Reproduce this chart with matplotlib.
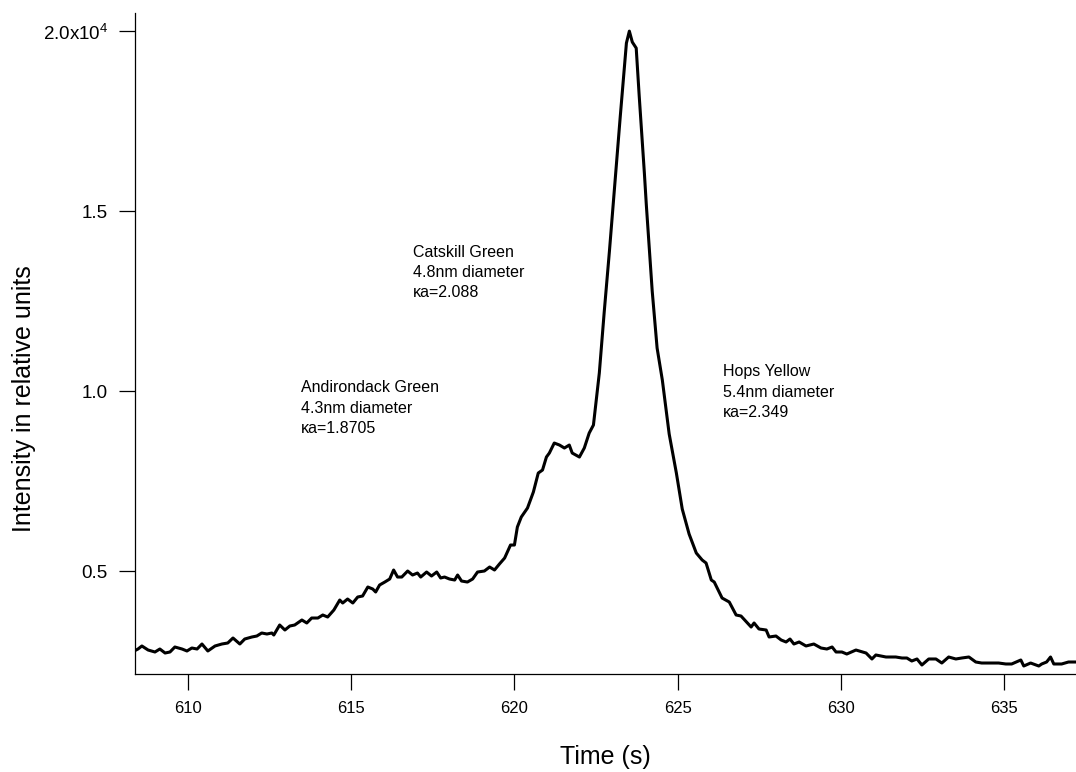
import matplotlib
matplotlib.use("Agg")
import matplotlib.pyplot as plt

plt.rcParams['font.family'] = ['Liberation Sans', 'DejaVu Sans']
plt.rcParams['mathtext.fontset'] = 'custom'
plt.rcParams['mathtext.rm'] = 'Liberation Sans'

# time (s) and detector intensity
time_s = [608.40, 608.47, 608.59, 608.78, 608.99, 609.14, 609.30, 609.45, 609.60, 609.82,
          609.97, 610.12, 610.28, 610.43, 610.61, 610.83, 611.04, 611.22, 611.38, 611.59,
          611.74, 611.96, 612.11, 612.26, 612.42, 612.57, 612.63, 612.81, 612.97, 613.12,
          613.27, 613.49, 613.64, 613.79, 613.98, 614.13, 614.28, 614.47,
          614.65, 614.74, 614.89, 615.05, 615.20, 615.35, 615.51, 615.66, 615.75, 615.87,
          616.03, 616.18, 616.30, 616.42, 616.55, 616.73, 616.88, 617.03, 617.13, 617.31,
          617.46, 617.62, 617.74, 617.86, 618.01, 618.17, 618.26, 618.38, 618.56, 618.72,
          618.87, 619.08, 619.24, 619.39, 619.54, 619.70, 619.88, 620.00, 620.09, 620.21,
          620.40, 620.58,
          620.73, 620.86, 620.98, 621.07, 621.22, 621.38, 621.53, 621.68, 621.77, 621.99,
          622.14, 622.29, 622.42, 622.60, 622.75, 622.91, 623.06, 623.24, 623.43, 623.52,
          623.61, 623.73, 623.82, 623.98,
          624.04, 624.22, 624.37, 624.53, 624.74, 624.96, 625.14, 625.35, 625.57, 625.75,
          625.87, 626.03, 626.12, 626.36, 626.58, 626.79, 626.94, 627.25, 627.34, 627.49,
          627.71, 627.80, 628.01, 628.17, 628.32, 628.44, 628.56, 628.72, 628.93, 629.17,
          629.39, 629.57, 629.73, 629.85, 630.03, 630.18, 630.46, 630.77, 630.95, 631.07,
          631.38, 631.68, 631.87, 632.02, 632.17, 632.33, 632.48, 632.69, 632.91, 633.09,
          633.30, 633.52, 633.70, 633.92, 634.13, 634.31, 634.53, 634.83, 635.05, 635.23,
          635.51, 635.60, 635.81, 636.06, 636.15, 636.30, 636.42, 636.52, 636.76, 636.97,
          637.16]

intensity = [2800, 2833, 2917, 2805, 2750, 2833, 2722, 2750, 2889, 2833,
             2778, 2861, 2833, 2972, 2778, 2917, 2972, 3000, 3139, 2972,
             3111, 3167, 3194, 3278, 3250, 3278, 3222, 3500, 3361, 3472,
             3500, 3639, 3556, 3694, 3694, 3778, 3722, 3917,
             4194, 4111, 4222, 4111, 4278, 4306, 4556, 4500, 4417, 4611,
             4694, 4778, 5028, 4833, 4833, 5000, 4889, 4944, 4833, 4972,
             4861, 4972, 4806, 4833, 4778, 4750, 4889, 4722, 4694, 4778,
             4972, 5000, 5111, 5028, 5194, 5361, 5722, 5722, 6222, 6500,
             6750, 7194,
             7722, 7806, 8167, 8278, 8556, 8500, 8417, 8500, 8278, 8167,
             8417, 8833, 9056, 10500, 12195, 13890, 15584, 17612, 19668, 20000,
             19696, 19529, 18223, 16056,
             15170, 12778, 11195, 10306, 8806, 7722, 6722, 6028, 5500, 5306,
             5222, 4750, 4694, 4250, 4139, 3778, 3750, 3444, 3556, 3389,
             3361, 3167, 3194, 3083, 3028, 3111, 2972, 3028, 2917, 2972,
             2861, 2833, 2889, 2750, 2750, 2694, 2805, 2722, 2556, 2667,
             2611, 2611, 2583, 2583, 2500, 2556, 2389, 2556, 2556, 2444,
             2611, 2556, 2583, 2611, 2472, 2444, 2444, 2444, 2417, 2417,
             2528, 2361, 2444, 2361, 2417, 2472, 2611, 2417, 2417, 2472,
             2472]

x_ticks = [610, 615, 620, 625, 630, 635]
y_ticks = [5000, 10000, 15000, 20000]
y_tick_labels = ['0.5', '1.0', '1.5', r'2.0x10$^{4}$']

peak_labels = ["Andirondack Green\n4.3nm diameter\n\u03baa=1.8705",
               "Catskill Green\n4.8nm diameter\n\u03baa=2.088",
               "Hops Yellow\n5.4nm diameter\n\u03baa=2.349"]
peak_label_pos = [(613.46, 9528), (616.88, 13306), (626.39, 9973)]

fig = plt.figure(figsize=(10.76, 7.72), dpi=100)
ax = fig.add_axes([0.1255, 0.127, 0.8745, 0.856])

ax.plot(time_s, intensity, color='black', lw=2.2)

ax.set_xlim(608.38, 637.2)
ax.set_ylim(2140, 20500)

ax.spines['top'].set_visible(False)
ax.spines['right'].set_visible(False)
ax.spines['left'].set_linewidth(0.9)
ax.spines['bottom'].set_linewidth(0.9)

ax.set_xticks(x_ticks)
ax.set_yticks(y_ticks)
ax.set_yticklabels(y_tick_labels)
ax.tick_params(direction='out', length=11.5, width=0.9)
ax.tick_params(axis='x', pad=8, labelsize=12)
ax.tick_params(axis='y', pad=8, labelsize=13.5)

ax.set_xlabel("Time (s)", fontsize=18)
ax.xaxis.set_label_coords(0.5, -0.108)
ax.set_ylabel("Intensity in relative units", fontsize=18)
ax.yaxis.set_label_coords(-0.105, 0.416)

for txt, (tx, ty) in zip(peak_labels, peak_label_pos):
    ax.text(tx, ty, txt, fontsize=11.5, ha='left', va='center', linespacing=1.42)

fig.savefig("out.png", dpi=100)
